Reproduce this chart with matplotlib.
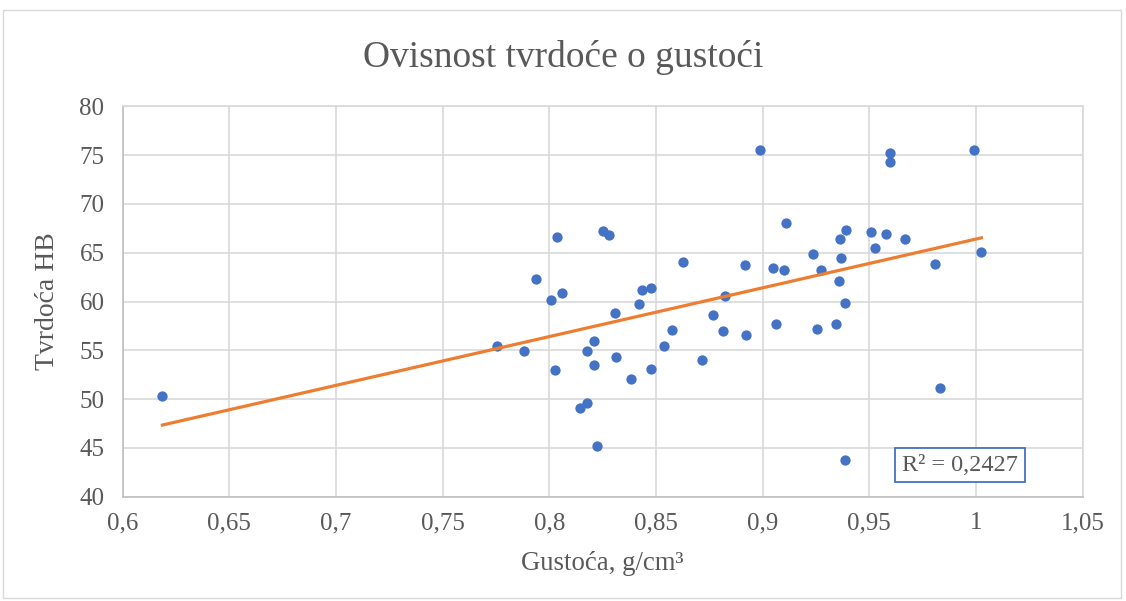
import numpy as np
import matplotlib.pyplot as plt
from matplotlib.patches import Rectangle

plt.rcParams['font.family'] = ['Liberation Serif', 'DejaVu Serif']

# ---------------- data ----------------
gustoca = [0.6187, 0.7756, 0.7881, 0.7939, 0.8036, 0.8010, 0.8061, 0.8028,
           0.8253, 0.8280, 0.8175, 0.8211, 0.8209, 0.8144, 0.8175, 0.8222,
           0.8309, 0.8311, 0.8381, 0.8422, 0.8433, 0.8478, 0.8475, 0.8539,
           0.8576, 0.8625, 0.8714, 0.8767, 0.8823, 0.8813, 0.8919, 0.8920,
           0.9050, 0.9062, 0.8987, 0.9598, 0.9598, 0.9989, 0.9108, 0.9392,
           0.9362, 0.9509, 0.9579, 0.9665, 0.9525, 0.9236, 0.9367, 0.9098,
           0.9272, 0.9359, 0.9387, 0.9806, 1.0025, 0.9253, 0.9345, 0.9831,
           0.9387]
tvrdoca = [50.32, 55.44, 54.90, 62.27, 66.58, 60.12, 60.90, 53.01,
           67.22, 66.78, 54.90, 55.92, 53.49, 49.12, 49.60, 45.19,
           58.82, 54.34, 52.06, 59.74, 61.18, 61.35, 53.05, 55.41,
           57.05, 64.08, 54.00, 58.65, 60.56, 57.01, 63.77, 56.54,
           63.46, 57.73, 75.52, 75.18, 74.26, 75.55, 68.04, 67.29,
           66.37, 67.15, 66.92, 66.44, 65.51, 64.90, 64.49, 63.26,
           63.23, 62.10, 59.88, 63.81, 65.04, 57.15, 57.73, 51.17,
           43.76]
r2_text = "R² = 0,2427"

x_ticks = [0.6, 0.65, 0.7, 0.75, 0.8, 0.85, 0.9, 0.95, 1.0, 1.05]
x_ticklabels = ["0,6", "0,65", "0,7", "0,75", "0,8", "0,85", "0,9", "0,95", "1", "1,05"]
y_ticks = [40, 45, 50, 55, 60, 65, 70, 75, 80]

# ---------------- linear trend ----------------
x = np.array(gustoca)
y = np.array(tvrdoca)
k, n = np.polyfit(x, y, 1)
xt = np.array([x.min(), x.max()])

# ---------------- plot ----------------
txt = "#595959"
grid = "#d9d9d9"

fig = plt.figure(figsize=(11.26, 6.01), dpi=100)
ax = fig.add_axes([0.1088, 0.1735, 0.8528, 0.6496])

ax.scatter(x, y, s=55, color="#4472C4", zorder=3, linewidths=0)
ax.plot(xt, k * xt + n, color="#ED7D31", linewidth=2.3, zorder=4)

ax.set_xlim(0.6, 1.05)
ax.set_ylim(40, 80)
ax.set_xticks(x_ticks)
ax.set_xticklabels(x_ticklabels)
ax.set_yticks(y_ticks)
ax.grid(True, color=grid, linewidth=1.2)
ax.set_axisbelow(True)
for s in ax.spines.values():
    s.set_color(grid)
    s.set_linewidth(1.2)
ax.spines["left"].set_color("#bfbfbf")
ax.spines["bottom"].set_color("#bfbfbf")
ax.tick_params(length=0, labelsize=18, labelcolor=txt)
ax.tick_params(axis="x", pad=11)
ax.tick_params(axis="y", pad=13)

ax.set_xlabel("Gustoća, g/cm³", fontsize=19.3, color=txt, labelpad=12)
ax.set_ylabel("Tvrdoća HB", fontsize=20, color=txt, labelpad=14)
fig.suptitle("Ovisnost tvrdoće o gustoći", fontsize=27, color=txt, y=0.905, va="center")

# R² label box, placed where Excel put it (lower right)
ax.text(0.9926, 43.25, r2_text, fontsize=17.5, color=txt,
        ha="center", va="center", zorder=5,
        bbox=dict(boxstyle="square,pad=0.28", facecolor="white",
                  edgecolor="#4472C4", linewidth=1.3))

fig.patches.append(Rectangle((0.003, 0.005), 0.993, 0.978, transform=fig.transFigure,
                             fill=False, edgecolor="#d9d9d9", linewidth=1))

fig.savefig("out.png", dpi=100)
